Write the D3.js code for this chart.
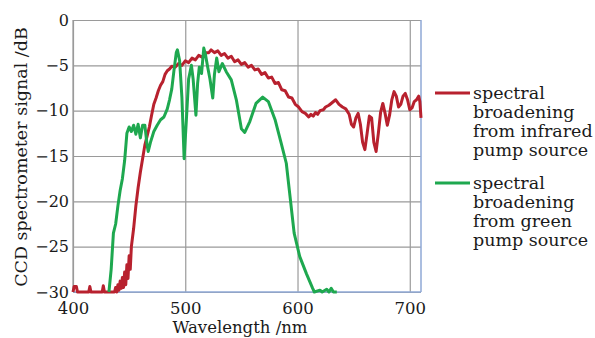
<!DOCTYPE html>
<html>
<head>
<meta charset="utf-8">
<script src="https://cdn.jsdelivr.net/npm/d3@7"></script>
<style>
  body { margin: 0; background: #fff; }
  text { font-family: "DejaVu Serif", serif; fill: #1a1a1a; }
</style>
</head>
<body>
<div id="chart"></div>
<script>
var width = 595,
    height = 338;

// infrared pump source spectrum [wavelength nm, dB]
const infrared = [
  [400,-30],[401,-29.4],[403,-29.4],[404,-30],[414,-30],[415,-29.4],[416,-30],[426,-30],[427,-29.3],[428,-30],
  [437,-30],[438,-29.5],[439,-30],[440,-29.2],[441,-29.8],[442,-28.8],[443,-29.6],[444,-28.4],[445,-29.5],
  [446,-27.8],[447,-29.2],[448,-27],[449,-28.5],[450,-26],[451,-27.5],[452,-25],[454,-23],[456,-20.5],
  [458,-18.5],[460,-16.8],[462,-15.3],[464,-13.8],[466,-12.8],[468,-11.8],[470,-10.5],[472,-9.3],[474,-8.6],
  [476,-7.8],[478,-7.2],[480,-6.8],[482,-6.0],[484,-5.6],[486,-5.4],[488,-5.1],[491,-5.2],[494,-4.8],
  [497,-5.0],[500,-4.5],[503,-4.7],[506,-4.2],[509,-4.4],[512,-3.9],[515,-4.1],[518,-3.6],[521,-3.6],
  [523,-3.3],[526,-3.6],[529,-3.4],[532,-3.9],[535,-3.7],[538,-4.2],[541,-4.0],[544,-4.6],[547,-4.4],
  [550,-4.9],[553,-4.7],[556,-5.2],[559,-5.0],[562,-5.5],[565,-5.4],[568,-6.0],[571,-5.8],[574,-6.4],
  [577,-6.3],[580,-7.0],[583,-6.9],[586,-7.7],[589,-7.8],[592,-8.5],[595,-8.6],[598,-9.3],[601,-9.6],
  [604,-10.1],[607,-10.3],[610,-10.7],[612,-10.4],[614,-10.6],[616,-10.2],[618,-10.4],[620,-10.0],
  [623,-9.9],[625,-9.6],[628,-9.4],[631,-9.1],[634,-8.8],[637,-9.3],[640,-9.6],[643,-9.8],
  [646,-10.4],[648,-11.5],[650,-11.8],[652,-10.8],[654,-10.3],[656,-11.5],[658,-13.5],[660,-14.3],
  [662,-12.5],[664,-10.6],[666,-10.8],[668,-13.5],[670,-14.5],[672,-12.5],[674,-10.2],[676,-9.2],
  [678,-10.3],[680,-11.6],[682,-10.5],[684,-8.8],[686,-7.9],[688,-8.4],[690,-9.6],[692,-9.3],[694,-8.4],
  [696,-8.1],[698,-8.8],[700,-9.9],[702,-9.7],[704,-9.0],[706,-8.8],[708,-8.4],[709,-9.0],[710,-10.8]
];

// green pump source spectrum [wavelength nm, dB]
const green = [
  [432,-30],[434,-27.5],[436,-23.5],[438,-22.5],[440,-20.5],[442,-18.8],[444,-17.5],[446,-15.5],
  [448,-12.5],[450,-11.8],[452,-12.3],[454,-11.6],[456,-12.6],[458,-11.5],[460,-13.0],[462,-11.6],
  [464,-11.6],[466,-13.8],[467,-14.5],[469,-13.5],[472,-12.3],[475,-11.6],[478,-11.0],[481,-10.7],
  [484,-9.8],[486,-8.8],[488,-7.6],[490,-5.5],[492,-3.6],[493,-3.3],[495,-4.5],[497,-8.5],[499,-15.3],
  [501,-11],[503,-6.5],[505.5,-5],[507,-6.5],[509.5,-10.5],[511,-7],[512.5,-5.2],[514.5,-5.9],
  [516.5,-3.1],[518,-3.8],[520,-5.2],[522,-6.5],[524.5,-8.6],[526,-6],[528,-4.2],[530,-5.7],
  [533,-4.8],[536.5,-5.7],[541,-6.6],[545.5,-8.8],[550,-12],[553,-12.4],[557.5,-11.2],[563,-9.2],
  [569,-8.5],[574,-9.0],[580,-11],[585.5,-13.6],[590,-15.8],[593,-19.1],[597,-23.5],[602,-26.1],
  [608,-28],[613.5,-29.6],[615,-30],[620,-29.8],[622,-30],[626,-29.7],[628,-30],[630,-29.6],[632,-30],[635,-30]
];

const xTicks = [400, 500, 600, 700];
const yTicks = [0, -5, -10, -15, -20, -25, -30];
const legendLabels = [
  ["spectral", "broadening", "from infrared", "pump source"],
  ["spectral", "broadening", "from green", "pump source"]
];
const colors = ["#b8212e", "#1ea84f"];

var margin = {top: 20, right: 174, bottom: 46, left: 73};
var plotW = width - margin.left - margin.right,
    plotH = height - margin.top - margin.bottom;

var svg = d3.select("#chart")
    .append("svg")
    .attr("width", width)
    .attr("height", height);

var g = svg.append("g")
    .attr("transform", "translate(" + margin.left + "," + margin.top + ")");

var x = d3.scaleLinear().domain([400, 710]).range([0, plotW]);
var y = d3.scaleLinear().domain([-30, 0]).range([plotH, 0]);

// grid + ticks
g.append("g")
    .attr("class", "y-axis")
    .call(d3.axisLeft(y).tickValues(yTicks).tickSize(-plotW).tickPadding(4))
    .call(a => a.select(".domain").remove())
    .call(a => a.selectAll("line").attr("stroke", "#9a9a9a").attr("stroke-width", 1.2))
    .call(a => a.selectAll("text").attr("font-size", "16px").attr("fill", "#1a1a1a"));

g.append("g")
    .attr("class", "x-axis")
    .attr("transform", "translate(0," + plotH + ")")
    .call(d3.axisBottom(x).tickValues(xTicks).tickSize(-plotH).tickPadding(10))
    .call(a => a.select(".domain").remove())
    .call(a => a.selectAll("line").attr("stroke", "#9a9a9a").attr("stroke-width", 1.2))
    .call(a => a.selectAll("text").attr("font-size", "16.5px").attr("fill", "#1a1a1a"));

// frame: right and bottom edges are bluish
g.append("line").attr("x1", 0).attr("x2", 0).attr("y1", 0).attr("y2", plotH)
    .attr("stroke", "#9a9a9a").attr("stroke-width", 1.2);
g.append("line").attr("x1", plotW).attr("x2", plotW).attr("y1", 0).attr("y2", plotH)
    .attr("stroke", "#8fa9d6").attr("stroke-width", 1.5);
g.append("line").attr("x1", 0).attr("x2", plotW).attr("y1", plotH).attr("y2", plotH)
    .attr("stroke", "#8fa9d6").attr("stroke-width", 1.5);

var line = d3.line()
    .x(d => x(d[0]))
    .y(d => y(d[1]));

g.append("path")
    .datum(infrared)
    .attr("fill", "none")
    .attr("stroke", colors[0])
    .attr("stroke-width", 3)
    .attr("stroke-linejoin", "round")
    .attr("d", line);

g.append("path")
    .datum(green)
    .attr("fill", "none")
    .attr("stroke", colors[1])
    .attr("stroke-width", 3)
    .attr("stroke-linejoin", "round")
    .attr("d", line);

// axis titles
svg.append("text")
    .attr("x", 240)
    .attr("y", 333)
    .attr("text-anchor", "middle")
    .attr("font-size", "16.5px")
    .text("Wavelength /nm");

svg.append("text")
    .attr("transform", "translate(27,157) rotate(-90)")
    .attr("text-anchor", "middle")
    .attr("font-size", "17.5px")
    .text("CCD spectrometer signal /dB");

// legend
var legend = svg.append("g").attr("transform", "translate(435,93)");
legendLabels.forEach(function (lines, i) {
    var lg = legend.append("g").attr("transform", "translate(0," + (i * 90) + ")");
    lg.append("line")
        .attr("x1", 0).attr("x2", 35)
        .attr("y1", 0).attr("y2", 0)
        .attr("stroke", colors[i])
        .attr("stroke-width", 3);
    lg.selectAll("text")
        .data(lines)
        .join("text")
        .attr("x", 38)
        .attr("y", (d, j) => j * 19 + 6)
        .attr("font-size", "17.5px")
        .text(d => d);
});
</script>
</body>
</html>
